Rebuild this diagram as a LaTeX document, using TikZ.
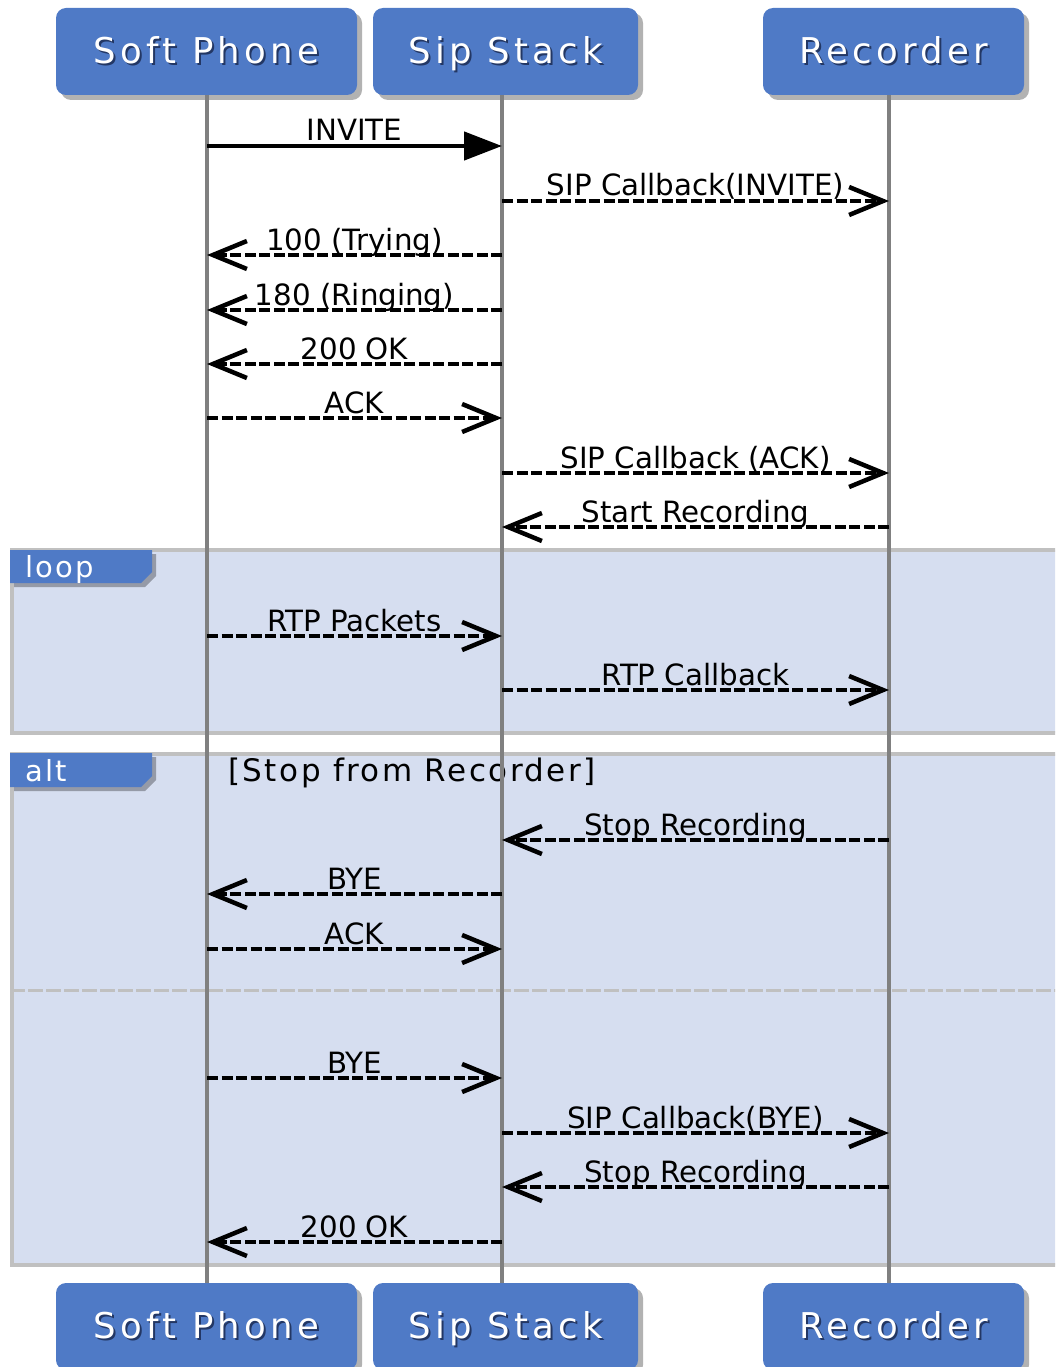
\documentclass[tikz,border=0pt]{standalone}
\usepackage{fontspec}
\setmainfont{DejaVu Sans}
\newfontfamily\hdrfam[LetterSpace=12]{DejaVu Sans}
\newfontfamily\tagfam[LetterSpace=8]{DejaVu Sans}
\usetikzlibrary{arrows.meta}
\definecolor{hdrblue}{RGB}{79,122,198}
\definecolor{glow}{RGB}{35,55,100}
\definecolor{frmfill}{RGB}{214,222,240}
\definecolor{frmline}{RGB}{192,192,192}
\definecolor{lifegray}{RGB}{128,128,128}
\newcommand\hdrfont{\hdrfam\fontsize{35.5}{40}\selectfont}
\newcommand\tagfont{\tagfam\fontsize{29}{34}\selectfont}
\newcommand\guardfont{\tagfam\fontsize{31}{36}\selectfont}
\newcommand\msgfont{\fontsize{29.3}{33}\selectfont}
\newcommand\glowtxt[1]{\leavevmode\rlap{\raisebox{-2pt}{\hspace{2pt}\color{glow}#1}}#1}
\newcommand\msg[6]{\draw[#1] (#2 |- 0,#4) -- (#3 |- 0,#4) node[lbl] (#6) {#5};}
\tikzset{
  hdrbox/.style={fill=hdrblue, rounded corners=10pt, minimum height=87pt, inner sep=0pt, text=white, font=\hdrfont, text height=30pt, text depth=6pt},
  hdrshadow/.style={fill=black, opacity=0.3, rounded corners=10pt},
  framebox/.style={fill=frmfill, draw=frmline, line width=4pt, anchor=north west, inner sep=0pt},
  tagshape/.style={fill=hdrblue},
  tagshadow/.style={fill=black, opacity=0.3},
  tagtxt/.style={text=white, font=\tagfont, inner sep=0pt, anchor=base west},
  lifeline/.style={draw=lifegray, line width=4pt},
  lbl/.style={pos=0.5, anchor=base, yshift=5pt, inner sep=0pt, font=\msgfont},
  syncmsg/.style={line width=4.5pt, -{Triangle[length=38pt,width=28pt]}},
  repmsg/.style={line width=4.5pt, dash pattern=on 11pt off 3.5pt, -{Straight Barb[length=34pt,width=28pt]}},
}
\begin{document}
\begin{tikzpicture}[x=1pt,y=-1pt]
\useasboundingbox (0,0) rectangle (1055,1367);
\clip (0,0) rectangle (1055,1367);
% header shadows
\foreach \a/\b/\c/\d in {56/8/357/95, 373/8/638/95, 763/8/1024/95, 56/1283/357/1370, 373/1283/638/1370, 763/1283/1024/1370}{
  \path[hdrshadow] (\a+5,\b+5) rectangle (\c+5,\d+5);
}
% headers
\node[hdrbox, minimum width=301pt] (sp) at (206.5,51.5) {\glowtxt{Soft Phone}};
\node[hdrbox, minimum width=265pt] (ss) at (505.5,51.5) {\glowtxt{Sip Stack}};
\node[hdrbox, minimum width=261pt] (rc) at (893.5,51.5) {\glowtxt{Recorder}};
\node[hdrbox, minimum width=301pt] (spb) at (206.5,1326.5) {\glowtxt{Soft Phone}};
\node[hdrbox, minimum width=265pt] (ssb) at (505.5,1326.5) {\glowtxt{Sip Stack}};
\node[hdrbox, minimum width=261pt] (rcb) at (893.5,1326.5) {\glowtxt{Recorder}};
% lifeline ends
\coordinate (lsp) at (207,95);  \coordinate (lspb) at (207,1283);
\coordinate (lss) at (502,95);  \coordinate (lssb) at (502,1283);
\coordinate (lrc) at (889,95);  \coordinate (lrcb) at (889,1283);
% frames
\node[framebox, minimum width=1060pt, minimum height=183pt] (loopf) at (10,548) {};
\node[framebox, minimum width=1060pt, minimum height=511pt] (altf) at (10,752) {};
\coordinate (divl) at (10,990); \coordinate (divr) at (1060,990);
\draw[frmline, line width=3pt, dash pattern=on 15pt off 3pt] (divl) -- (divr);
% tags
\fill[tagshadow] (14,554) -- (156,554) -- (156,576) -- (145,587) -- (14,587) -- cycle;
\fill[tagshape] (10,550) -- (152,550) -- (152,572) -- (141,583) -- (10,583) -- cycle;
\node[tagtxt] (looptxt) at (25,577) {loop};
\fill[tagshadow] (14,757) -- (156,757) -- (156,780) -- (145,791) -- (14,791) -- cycle;
\fill[tagshape] (10,753) -- (152,753) -- (152,776) -- (141,787) -- (10,787) -- cycle;
\node[tagtxt] (alttxt) at (25,781) {alt};
\node[font=\guardfont, inner sep=0pt, anchor=base west] (guard) at (228,781) {[Stop from Recorder]};
% lifelines
\draw[lifeline] (lsp) -- (lspb);
\draw[lifeline] (lss) -- (lssb);
\draw[lifeline] (lrc) -- (lrcb);
% messages
\msg{syncmsg}{lsp}{lss}{146}{INVITE}{m1}
\msg{repmsg}{lss}{lrc}{201}{SIP Callback(INVITE)}{m2}
\msg{repmsg}{lss}{lsp}{255}{100 (Trying)}{m3}
\msg{repmsg}{lss}{lsp}{310}{180 (Ringing)}{m4}
\msg{repmsg}{lss}{lsp}{364}{200 OK}{m5}
\msg{repmsg}{lsp}{lss}{418}{ACK}{m6}
\msg{repmsg}{lss}{lrc}{473}{SIP Callback (ACK)}{m7}
\msg{repmsg}{lrc}{lss}{527}{Start Recording}{m8}
\msg{repmsg}{lsp}{lss}{636}{RTP Packets}{m9}
\msg{repmsg}{lss}{lrc}{690}{RTP Callback}{m10}
\msg{repmsg}{lrc}{lss}{840}{Stop Recording}{m11}
\msg{repmsg}{lss}{lsp}{894}{BYE}{m12}
\msg{repmsg}{lsp}{lss}{949}{ACK}{m13}
\msg{repmsg}{lsp}{lss}{1078}{BYE}{m14}
\msg{repmsg}{lss}{lrc}{1133}{SIP Callback(BYE)}{m15}
\msg{repmsg}{lrc}{lss}{1187}{Stop Recording}{m16}
\msg{repmsg}{lss}{lsp}{1242}{200 OK}{m17}
\end{tikzpicture}
\end{document}
